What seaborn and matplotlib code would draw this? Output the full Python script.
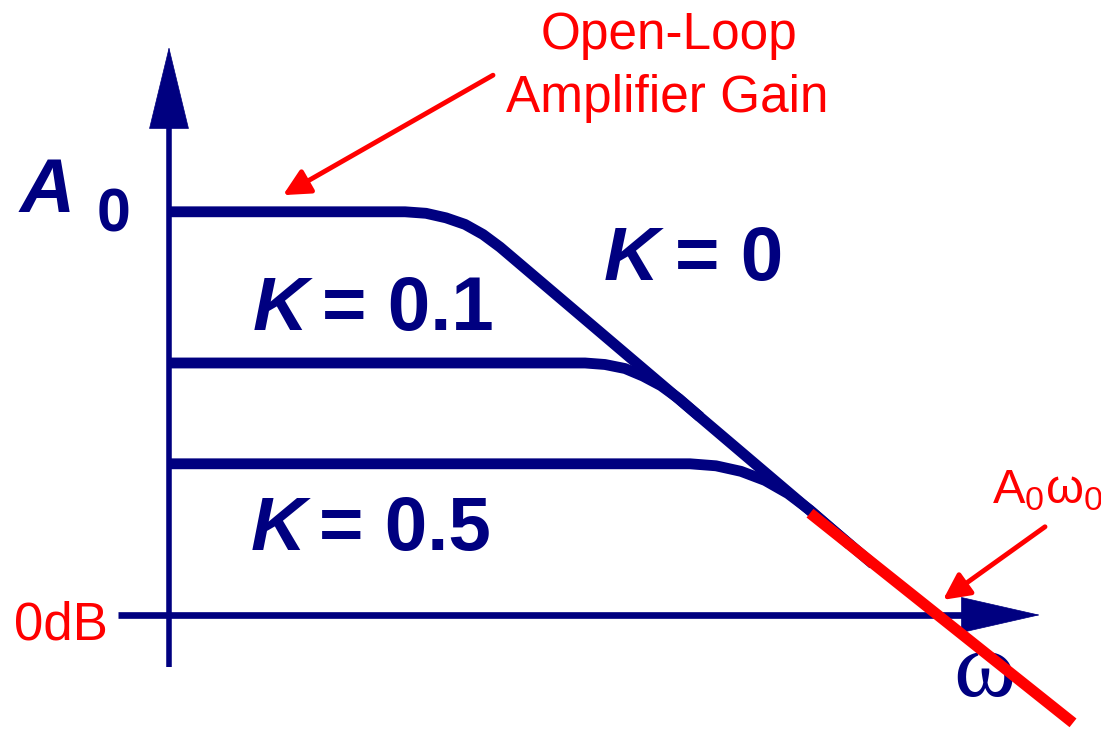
import seaborn as sns
import matplotlib.pyplot as plt

# x: log frequency (arbitrary decades), y: gain in dB
freq_k0 = [0.00, 2.36, 2.57, 2.77, 2.96, 3.14, 3.31, 7.04]
gain_k0 = [80.0, 80.0, 79.7, 78.8, 77.5, 75.5, 73.0, 10.1]

freq_k01 = [0.00, 4.16, 4.36, 4.56, 4.74, 4.92, 5.10, 5.31]
gain_k01 = [50.0, 50.0, 49.7, 48.9, 47.4, 45.5, 42.9, 39.3]

freq_k05 = [0.00, 5.21, 5.47, 5.72, 5.96, 6.19, 6.41, 6.81]
gain_k05 = [30.0, 30.0, 29.6, 28.5, 26.7, 24.1, 20.8, 13.9]

gbw_freq = [6.41, 9.04]
gbw_gain = [20.2, -21.4]

# axes (shaft ends and arrow tips)
yaxis_freq = [0.0, 0.0]
yaxis_gain = [-10.3, 96.8]
yaxis_tip = 112.7
xaxis_freq = [-0.51, 7.94]
xaxis_gain = [0.0, 0.0]
xaxis_tip = 8.71

navy = '#000080'
red = '#ff0000'

sns.set_theme(style='white')
plt.rcParams['font.family'] = ['Liberation Sans', 'DejaVu Sans']
plt.rcParams['mathtext.fontset'] = 'custom'
plt.rcParams['mathtext.rm'] = 'Liberation Sans'

fig = plt.figure(figsize=(11.01, 7.29), dpi=100)
ax = fig.add_axes([0, 0, 1, 1])
ax.set_xlim(-1.69, 9.32)
ax.set_ylim(-22.62, 122.02)
ax.axis('off')

line_kw = dict(sort=False, estimator=None, ax=ax, legend=False)

# axes lines
sns.lineplot(x=yaxis_freq, y=yaxis_gain, color=navy, lw=4.0,
             solid_capstyle='butt', zorder=2, **line_kw)
sns.lineplot(x=xaxis_freq, y=xaxis_gain, color=navy, lw=4.8,
             solid_capstyle='butt', zorder=2, **line_kw)
ax.annotate('', xy=(0, yaxis_tip), xytext=(0, yaxis_gain[1]),
            arrowprops=dict(arrowstyle='-|>,head_length=5.76,head_width=1.4',
                            mutation_scale=10, lw=0.5, color=navy,
                            shrinkA=0, shrinkB=0))
ax.annotate('', xy=(xaxis_tip, 0), xytext=(xaxis_freq[1], 0),
            arrowprops=dict(arrowstyle='-|>,head_length=5.54,head_width=1.26',
                            mutation_scale=10, lw=0.5, color=navy,
                            shrinkA=0, shrinkB=0))

# gain curves
for fx, gy in [(freq_k0, gain_k0), (freq_k01, gain_k01), (freq_k05, gain_k05)]:
    sns.lineplot(x=fx, y=gy, color=navy, lw=7.8, solid_capstyle='butt',
                 solid_joinstyle='round', zorder=3, **line_kw)

# gain-bandwidth line
sns.lineplot(x=gbw_freq, y=gbw_gain, color=red, lw=8, solid_capstyle='butt',
             zorder=6, **line_kw)

# labels
bold = dict(color=navy, fontweight='bold', fontsize=55, va='baseline', ha='left')
ax.text(-1.49, 80.0, 'A', fontstyle='italic', **bold)
ax.text(-0.72, 76.0, '0', **dict(bold, fontsize=44))
ax.text(4.35, 66.5, 'K', fontstyle='italic', **bold)
ax.text(5.06, 66.5, '= 0', **bold)
ax.text(0.84, 56.5, 'K', fontstyle='italic', **bold)
ax.text(1.53, 56.5, '= 0.1', **bold)
ax.text(0.82, 12.9, 'K', fontstyle='italic', **bold)
ax.text(1.50, 12.9, '= 0.5', **bold)

ax.text(7.84, -16.1, 'ω', color=navy, fontsize=68, family='Liberation Serif',
        va='baseline', ha='left', zorder=4)

ax.text(5.00, 112.3, 'Open-Loop', color=red, fontsize=37, ha='center', va='baseline')
ax.text(4.98, 99.8, 'Amplifier Gain', color=red, fontsize=37, ha='center', va='baseline')
ax.text(-1.55, -4.96, '0dB', color=red, fontsize=38, ha='left', va='baseline')
ax.text(8.23, 22.2, r'$\mathregular{A_0ω_0}$', color=red, fontsize=35,
        ha='left', va='baseline')

red_arrow = dict(arrowstyle='-|>,head_length=1.6,head_width=0.8',
                 mutation_scale=10, lw=3.5, color=red, shrinkA=0, shrinkB=0)
ax.annotate('', xy=(1.14, 83.3), xytext=(3.24, 107.1), arrowprops=red_arrow, zorder=7)
ax.annotate('', xy=(7.74, 3.0), xytext=(8.76, 17.5), arrowprops=red_arrow, zorder=7)

plt.savefig('out.png', dpi=100, facecolor='white')
